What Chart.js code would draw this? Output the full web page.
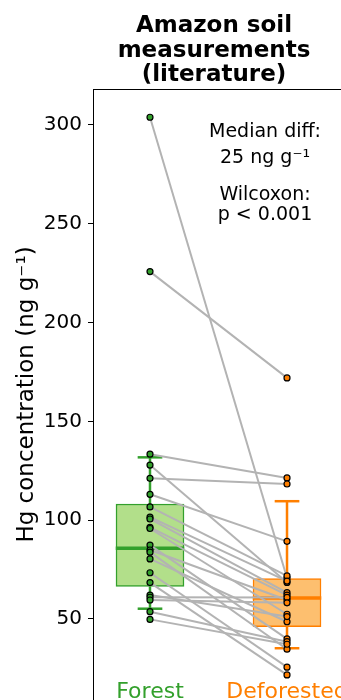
<!DOCTYPE html>
<html>
<head>
<meta charset="utf-8">
<title>Amazon soil measurements</title>
<script src="https://cdn.jsdelivr.net/npm/chart.js@4.4.1/dist/chart.umd.min.js"></script>
<style>
  html, body { margin: 0; padding: 0; background: #ffffff; overflow: hidden; }
  #wrap { width: 341px; height: 700px; }
</style>
</head>
<body>
<div id="wrap"><canvas id="hgChart" width="341" height="700"></canvas></div>
<script>
// ---------------------------------------------------------
// Data
// ---------------------------------------------------------
const groups = ['Forest', 'Deforested'];
const positions = [0, 1];

// paired site values, ng g-1 (same index = same site)
const forestHg = [303.9, 225.8, 133.4, 127.9, 121.2, 113.1, 106.7, 101.5, 100.6, 96.4, 95.8,
                  87.4, 84.9, 83.8, 80.4, 73.4, 68.4, 62.1, 61.0, 59.6, 53.7, 49.8];
const deforestedHg = [70.7, 172.0, 121.4, 68.5, 118.3, 89.3, 71.8, 69.2, 63.3, 62.1, 52.4,
                      39.9, 59.6, 34.7, 48.6, 25.6, 21.7, 51.2, 60.9, 58.2, 38.5, 37.2];

// box statistics per group
const boxQ1 = [66.5, 46.1];
const boxMedian = [85.8, 60.6];
const boxQ3 = [108.2, 70.4];
const whiskerLow = [55.2, 35.2];
const whiskerHigh = [131.8, 109.6];

const yTicks = [50, 100, 150, 200, 250, 300];

const titleLines = ['Amazon soil', 'measurements', '(literature)'];
const noteLines = ['Median diff:', '25 ng g\u207B\u00B9', 'Wilcoxon:', 'p < 0.001'];

// ---------------------------------------------------------
// Styling
// ---------------------------------------------------------
const edgeColors = ['#33a02c', '#ff7f00'];
const fillColors = ['#b2df8a', '#fdbf6f'];
const pairColor = '#b3b3b3';
const FONT = "'DejaVu Sans', sans-serif";
const BOX_HALF = 0.25;
const CAP_HALF = 0.09;

// ---------------------------------------------------------
// Build datasets
// ---------------------------------------------------------
const datasets = [];

// paired grey lines
forestHg.forEach((f, i) => {
  datasets.push({
    type: 'scatter',
    showLine: true,
    data: [{ x: positions[0], y: f }, { x: positions[1], y: deforestedHg[i] }],
    borderColor: pairColor,
    borderWidth: 2,
    pointRadius: 0,
    order: 2
  });
});

// boxes
datasets.push({
  type: 'bar',
  data: positions.map((p, i) => ({ x: p, y: [boxQ1[i], boxQ3[i]] })),
  backgroundColor: fillColors,
  borderColor: edgeColors,
  borderWidth: 1.5,
  borderSkipped: false,
  barThickness: 68,
  grouped: false,
  order: 5
});

positions.forEach((p, i) => {
  // whiskers (outside the box only)
  datasets.push({
    type: 'scatter',
    showLine: true,
    spanGaps: false,
    data: [
      { x: p, y: whiskerLow[i] }, { x: p, y: boxQ1[i] }, { x: p, y: null },
      { x: p, y: boxQ3[i] }, { x: p, y: whiskerHigh[i] }
    ],
    borderColor: edgeColors[i],
    borderWidth: 2.5,
    pointRadius: 0,
    order: 4
  });
  // caps
  [whiskerLow[i], whiskerHigh[i]].forEach(v => {
    datasets.push({
      type: 'scatter',
      showLine: true,
      data: [{ x: p - CAP_HALF, y: v }, { x: p + CAP_HALF, y: v }],
      borderColor: edgeColors[i],
      borderWidth: 2.5,
      pointRadius: 0,
      order: 4
    });
  });
  // median
  datasets.push({
    type: 'scatter',
    showLine: true,
    data: [{ x: p - BOX_HALF, y: boxMedian[i] }, { x: p + BOX_HALF, y: boxMedian[i] }],
    borderColor: edgeColors[i],
    borderWidth: 3.5,
    pointRadius: 0,
    order: 3
  });
});

// points
[forestHg, deforestedHg].forEach((vals, i) => {
  datasets.push({
    type: 'scatter',
    data: vals.map(v => ({ x: positions[i], y: v })),
    pointRadius: 3,
    pointBackgroundColor: edgeColors[i],
    pointBorderColor: '#000000',
    pointBorderWidth: 1.2,
    order: 0
  });
});

// ---------------------------------------------------------
// Text plugin: title, note, group labels
// ---------------------------------------------------------
const textPlugin = {
  id: 'textPlugin',
  afterDraw(chart) {
    const ctx = chart.ctx;
    const xs = chart.scales.x;
    ctx.save();
    ctx.textAlign = 'center';
    ctx.textBaseline = 'alphabetic';

    ctx.fillStyle = '#000000';
    ctx.font = 'bold 23px ' + FONT;
    [32, 56.5, 81].forEach((y, i) => ctx.fillText(titleLines[i], 214, y));

    ctx.font = '19px ' + FONT;
    [137, 163, 200, 220].forEach((y, i) => ctx.fillText(noteLines[i], 265, y));

    ctx.font = '22px ' + FONT;
    groups.forEach((g, i) => {
      ctx.fillStyle = edgeColors[i];
      ctx.fillText(g, xs.getPixelForValue(positions[i]), 698);
    });
    ctx.restore();
  }
};

// ---------------------------------------------------------
// Chart
// ---------------------------------------------------------
new Chart(document.getElementById('hgChart'), {
  type: 'scatter',
  data: { datasets },
  options: {
    responsive: false,
    animation: false,
    layout: { autoPadding: false, padding: { top: 89, left: 0, right: 0, bottom: 0 } },
    plugins: { legend: { display: false }, tooltip: { enabled: false } },
    scales: {
      x: {
        type: 'linear',
        position: 'top',
        min: -0.416,
        max: 1.394,
        offset: false,
        grid: { display: false },
        ticks: { display: false },
        border: { display: true, color: '#000000', width: 1 },
        afterFit: scale => {
          scale.height = 0;
          scale.paddingLeft = 0;
          scale.paddingRight = 0;
        }
      },
      y: {
        min: 9,
        max: 318.2,
        afterBuildTicks: scale => { scale.ticks = yTicks.map(v => ({ value: v })); },
        afterFit: scale => {
          scale.width = 93;
          scale.paddingTop = 0;
          scale.paddingBottom = 0;
        },
        grid: { display: true, drawOnChartArea: false, drawTicks: true, tickLength: 5, tickColor: '#000000' },
        border: { display: true, color: '#000000', width: 1 },
        ticks: { color: '#000000', padding: 6, font: { family: FONT, size: 20 } },
        title: {
          display: true,
          text: 'Hg concentration (ng g\u207B\u00B9)',
          color: '#000000',
          font: { family: FONT, size: 23 },
          padding: { top: 13, bottom: 0 }
        }
      }
    }
  },
  plugins: [textPlugin]
});
</script>
</body>
</html>
